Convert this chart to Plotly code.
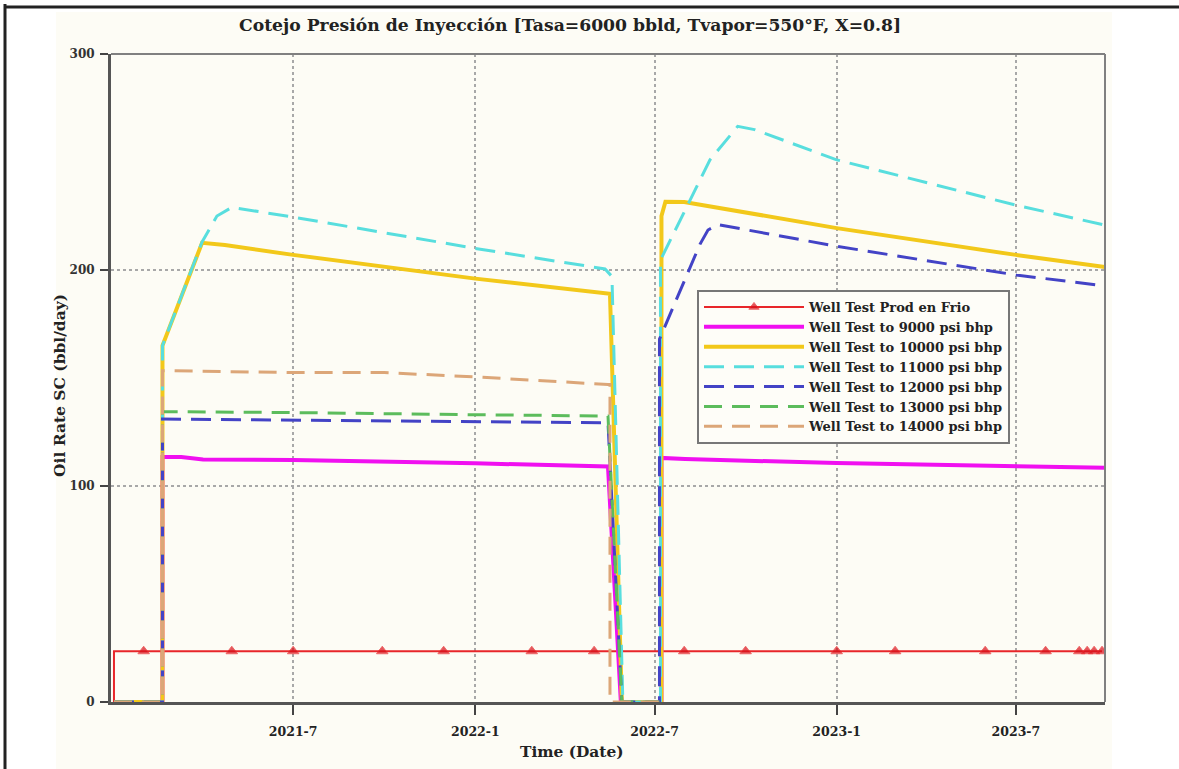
import plotly.graph_objects as go

# ---- Well test (cold production) ----
red_dates = ["2021-01-01", "2021-01-01", "2021-01-31", "2021-04-30", "2021-07-01",
             "2021-09-29", "2021-11-30", "2022-02-27", "2022-05-01", "2022-07-31",
             "2022-10-01", "2023-01-01", "2023-03-01", "2023-05-31", "2023-07-31",
             "2023-09-03", "2023-09-11", "2023-09-18", "2023-09-26"]
red_rate = [0, 23.5, 23.5, 23.5, 23.5, 23.5, 23.5, 23.5, 23.5, 23.5,
            23.5, 23.5, 23.5, 23.5, 23.5, 23.5, 23.5, 23.5, 23.5]

# ---- 9000 psi bhp ----
mag_dates = ["2021-01-01", "2021-02-19", "2021-02-19", "2021-03-10", "2021-04-01",
             "2021-07-01", "2022-01-01", "2022-05-15", "2022-05-28", "2022-07-08",
             "2022-07-08", "2022-08-01", "2023-01-01", "2023-07-01", "2023-09-29"]
mag_rate = [0, 0, 113.4, 113.4, 112.3, 112.0, 110.5, 109.0, 0, 0,
            113.0, 112.5, 110.6, 109.5, 108.5]

# ---- 10000 psi bhp ----
yel_dates = ["2021-01-01", "2021-02-19", "2021-02-19", "2021-03-31", "2021-04-23",
             "2021-07-01", "2022-01-01", "2022-05-17", "2022-05-29", "2022-07-08",
             "2022-07-08", "2022-07-12", "2022-07-31", "2023-01-01", "2023-07-01",
             "2023-09-29"]
yel_rate = [0, 0, 165.0, 212.6, 211.6, 207.0, 196.0, 189.0, 0, 0,
            225.0, 231.6, 231.5, 219.4, 207.0, 201.4]

# ---- 11000 psi bhp ----
cya_dates = ["2021-01-01", "2021-02-19", "2021-02-19", "2021-03-31", "2021-04-15",
             "2021-04-30", "2021-07-01", "2022-01-01", "2022-05-12", "2022-05-19",
             "2022-05-30", "2022-07-07", "2022-07-07", "2022-08-26", "2022-09-23",
             "2022-10-10", "2023-01-01", "2023-07-01", "2023-09-29"]
cya_rate = [0, 0, 165.0, 213.0, 225.0, 229.0, 224.5, 210.0, 200.5, 197.0,
            0, 0, 204.6, 251.0, 266.5, 265.0, 251.0, 230.0, 220.8]

# ---- 12000 psi bhp ----
blu_dates = ["2021-01-01", "2021-02-19", "2021-02-19", "2021-07-01", "2022-01-01",
             "2022-05-15", "2022-05-29", "2022-07-06", "2022-07-06", "2022-08-16",
             "2022-08-24", "2022-09-03", "2023-01-01", "2023-07-01", "2023-09-29"]
blu_rate = [0, 0, 131.0, 130.5, 130.0, 129.3, 0, 0, 168.0, 212.0,
            218.5, 221.0, 211.0, 197.7, 192.6]

# ---- 13000 psi bhp ----
grn_dates = ["2021-01-01", "2021-02-19", "2021-02-19", "2021-07-01", "2022-01-01",
             "2022-05-15", "2022-05-29", "2022-07-06"]
grn_rate = [0, 0, 134.4, 134.0, 133.0, 132.4, 0, 0]

# ---- 14000 psi bhp ----
org_dates = ["2021-01-01", "2021-02-19", "2021-02-19", "2021-07-01", "2021-10-01",
             "2022-01-01", "2022-05-15", "2022-05-17", "2022-05-17", "2022-07-06"]
org_rate = [0, 0, 153.4, 152.5, 152.5, 150.5, 147.0, 147.0, 0, 0]

series_names = ["Well Test Prod en Frio", "Well Test to 9000 psi bhp",
                "Well Test to 10000 psi bhp", "Well Test to 11000 psi bhp",
                "Well Test to 12000 psi bhp", "Well Test to 13000 psi bhp",
                "Well Test to 14000 psi bhp"]

x_tick_vals = ["2021-07-01", "2022-01-01", "2022-07-01", "2023-01-01", "2023-07-01"]
x_tick_text = ["2021-7", "2022-1", "2022-7", "2023-1", "2023-7"]
y_tick_vals = [0, 100, 200, 300]

SERIF = "DejaVu Serif, Liberation Serif, serif"

fig = go.Figure()

fig.add_trace(go.Scatter(
    x=red_dates, y=red_rate, name=series_names[0], mode="lines+markers",
    line=dict(color="#e8262a", width=2),
    marker=dict(symbol="triangle-up", color="#d8101a",
                size=[0, 0] + [10] * (len(red_dates) - 2)),
))

styles = [
    (mag_dates, mag_rate, "#f010f0", 4, "solid"),
    (yel_dates, yel_rate, "#f2c81a", 4, "solid"),
    (cya_dates, cya_rate, "#58dede", 3, "20px,10px"),
    (blu_dates, blu_rate, "#4343c6", 3, "20px,10px"),
    (grn_dates, grn_rate, "#5cbc5c", 3, "18px,10px"),
    (org_dates, org_rate, "#dca678", 3, "18px,10px"),
]
for (xs, ys, color, width, dash), name in zip(styles, series_names[1:]):
    fig.add_trace(go.Scatter(
        x=xs, y=ys, name=name, mode="lines",
        line=dict(color=color, width=width, dash=dash),
    ))

L, R, T, B = 111, 1179 - 1105, 54, 769 - 702
PW, PH = 1105 - 111, 702 - 54


def px_x(px):
    return (px - L) / PW


def px_y(py):
    return (702 - py) / PH


shapes = [
    # panel background
    dict(type="rect", xref="paper", yref="paper", layer="below",
         x0=px_x(56), x1=px_x(1112), y0=px_y(12), y1=px_y(769),
         fillcolor="#fdfcf5", line=dict(width=0)),
    # top and right frame of the plot area
    dict(type="line", xref="paper", yref="paper", x0=0, x1=1, y0=1, y1=1,
         line=dict(color="#808080", width=2)),
    dict(type="line", xref="paper", yref="paper", x0=1, x1=1, y0=0, y1=1,
         line=dict(color="#808080", width=2)),
    # outer border
    dict(type="line", xref="paper", yref="paper", x0=px_x(5), x1=px_x(5),
         y0=px_y(4), y1=px_y(769), line=dict(color="#222", width=3)),
    dict(type="line", xref="paper", yref="paper", x0=px_x(4), x1=px_x(1179),
         y0=px_y(7), y1=px_y(7), line=dict(color="#222", width=3)),
]

annotations = [
    dict(text="<b>Cotejo Presión de Inyección [Tasa=6000 bbld, Tvapor=550°F, X=0.8]</b>",
         xref="paper", yref="paper", x=px_x(570), y=px_y(25),
         xanchor="center", yanchor="middle", showarrow=False,
         font=dict(family=SERIF, size=17.2, color="#222")),
    dict(text="<b>Time (Date)</b>", xref="paper", yref="paper",
         x=px_x(572), y=px_y(752), xanchor="center", yanchor="middle",
         showarrow=False, font=dict(family=SERIF, size=15.4, color="#222")),
    dict(text="<b>Oil Rate SC (bbl/day)</b>", xref="paper", yref="paper",
         x=px_x(59), y=px_y(386), xanchor="center", yanchor="middle",
         textangle=-90, showarrow=False,
         font=dict(family=SERIF, size=15.5, color="#222")),
]

fig.update_layout(
    width=1179, height=769,
    margin=dict(l=L, r=R, t=T, b=B),
    paper_bgcolor="white",
    plot_bgcolor="#fdfcf5",
    showlegend=True,
    legend=dict(
        x=px_x(697), y=px_y(290), xanchor="left", yanchor="top",
        bgcolor="#fefdf8", bordercolor="#777", borderwidth=2,
        font=dict(family=SERIF, size=13, color="#222", weight="bold"),
        itemwidth=100, tracegroupgap=0,
    ),
    shapes=shapes,
    annotations=annotations,
)

fig.update_xaxes(
    type="date", range=["2020-12-29", "2023-09-29"],
    tickvals=x_tick_vals, ticktext=x_tick_text,
    ticks="outside", ticklen=10, tickwidth=2, tickcolor="#444",
    tickfont=dict(family=SERIF, size=12.5, color="#222", weight="bold"),
    ticklabelstandoff=6,
    showline=True, linecolor="#555", linewidth=3,
    showgrid=True, gridcolor="#a8a8a8", gridwidth=1.5, griddash="dot",
    zeroline=False, layer="below traces",
)
fig.update_yaxes(
    range=[0, 300], tickvals=y_tick_vals,
    ticks="outside", ticklen=8, tickwidth=2, tickcolor="#444",
    tickfont=dict(family=SERIF, size=12, color="#333", weight="bold"),
    ticklabelstandoff=3,
    showline=True, linecolor="#555", linewidth=3,
    showgrid=True, gridcolor="#a8a8a8", gridwidth=1.5, griddash="dot",
    zeroline=False, layer="below traces",
)

fig.write_html("out.html")
